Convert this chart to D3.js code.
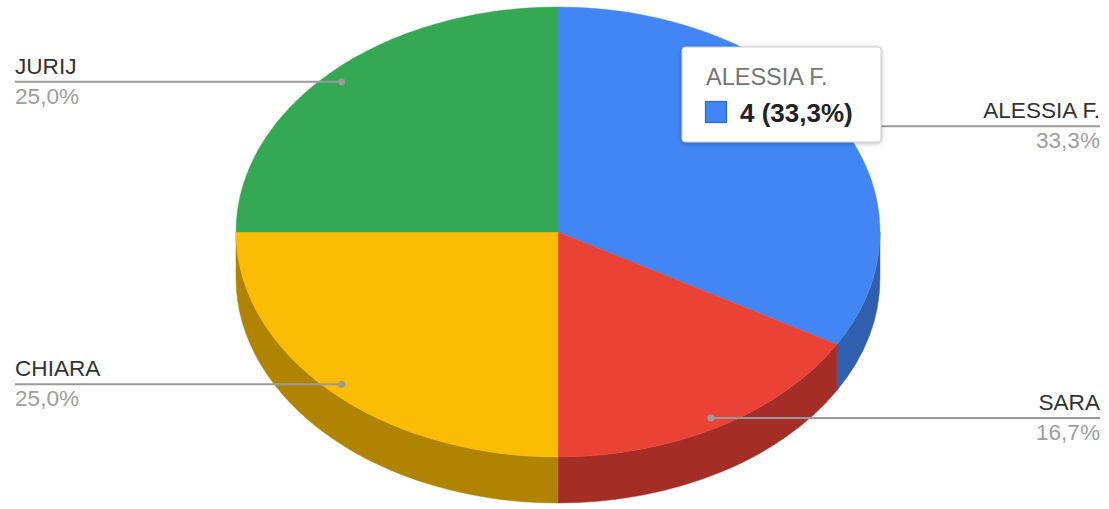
<!DOCTYPE html>
<html>
<head>
<meta charset="utf-8">
<script src="https://cdn.jsdelivr.net/npm/d3@7"></script>
<style>
  html, body { margin: 0; padding: 0; background: #fff; }
  svg { display: block; font-family: "Liberation Sans", Arial, sans-serif; }
</style>
</head>
<body>
<svg id="chart" width="1109" height="509"></svg>
<script>
// ---- data ----
const categories = ["ALESSIA F.", "SARA", "CHIARA", "JURIJ"];
const values = [4, 2, 3, 3];
const topColors = ["#4285f4", "#ea4335", "#fbbc04", "#34a853"];
const sideColors = ["#2f5fae", "#a42d25", "#b08402", "#247638"];
const tooltipIndex = 0;

// ---- layout ----
const W = 1109, H = 509;
const cx = 558, cy = 232, rx = 322, ry = 225, depth = 46;
const labelDotFrac = 0.95;
const leftX = 15, rightX = 1100;
const fontSize = 22.6;

const svg = d3.select("#chart");
const total = d3.sum(values);
const pctText = v => (v / total * 100).toFixed(1).replace(".", ",") + "%";

const pie = d3.pie().sort(null).value(d => d.value);
const arcsData = pie(categories.map((c, i) => ({ name: c, value: values[i], i })));

// projection: angle clockwise from 12 o'clock
const P = (a, dy = 0) => [cx + rx * Math.sin(a), cy - ry * Math.cos(a) + dy];

// shadow filter
const defs = svg.append("defs");
const f = defs.append("filter").attr("id", "shadow").attr("x", "-20%").attr("y", "-20%").attr("width", "140%").attr("height", "150%");
f.append("feDropShadow").attr("dx", 0).attr("dy", 1).attr("stdDeviation", 2).attr("flood-color", "#000").attr("flood-opacity", 0.3);

// ---- side walls (visible front half: PI/2 .. 3PI/2) ----
const sideG = svg.append("g");
arcsData.forEach(d => {
  const a = Math.max(d.startAngle, Math.PI / 2);
  const b = Math.min(d.endAngle, 3 * Math.PI / 2);
  if (b <= a) return;
  const [x0, y0] = P(a), [x1, y1] = P(b);
  const large = (b - a) > Math.PI ? 1 : 0;
  const s = `M${x0},${y0} A${rx},${ry} 0 ${large} 1 ${x1},${y1} L${x1},${y1 + depth} A${rx},${ry} 0 ${large} 0 ${x0},${y0 + depth} Z`;
  sideG.append("path").attr("d", s)
    .attr("fill", sideColors[d.data.i]).attr("stroke", sideColors[d.data.i]).attr("stroke-width", 0.5);
});

// ---- top face ----
const arcGen = d3.arc().innerRadius(0).outerRadius(rx);
const topG = svg.append("g").attr("transform", `translate(${cx},${cy}) scale(1,${ry / rx})`);
topG.selectAll("path").data(arcsData).join("path")
  .attr("d", arcGen)
  .attr("fill", d => topColors[d.data.i])
  .attr("stroke", d => topColors[d.data.i])
  .attr("stroke-width", 0.5);

// ---- labels ----
const labG = svg.append("g");
arcsData.forEach(d => {
  const mid = (d.startAngle + d.endAngle) / 2;
  const dx = cx + labelDotFrac * rx * Math.sin(mid);
  const dy = cy - labelDotFrac * ry * Math.cos(mid) + 1;
  const right = Math.sin(mid) > 0;
  const tx = right ? rightX : leftX;
  labG.append("line").attr("x1", tx).attr("x2", dx).attr("y1", dy).attr("y2", dy)
    .attr("stroke", "#9a9a9a").attr("stroke-width", 2);
  labG.append("circle").attr("cx", dx).attr("cy", dy).attr("r", 3.5).attr("fill", "#9a9a9a");
  labG.append("text").attr("x", tx).attr("y", dy - 8)
    .attr("text-anchor", right ? "end" : "start")
    .attr("font-size", fontSize).attr("fill", "#333").text(d.data.name);
  labG.append("text").attr("x", tx).attr("y", dy + 22)
    .attr("text-anchor", right ? "end" : "start")
    .attr("font-size", fontSize).attr("fill", "#9e9e9e").text(pctText(d.data.value));
});

// ---- tooltip ----
const t = arcsData[tooltipIndex];
const tipG = svg.append("g").attr("transform", "translate(682,47)");
tipG.append("rect").attr("width", 199).attr("height", 95).attr("rx", 3)
  .attr("fill", "#fff").attr("stroke", "#cccccc").attr("stroke-width", 1).attr("filter", "url(#shadow)");
tipG.append("text").attr("x", 24).attr("y", 38).attr("font-size", 23.5).attr("fill", "#757575").text(t.data.name);
tipG.append("rect").attr("x", 23.5).attr("y", 54.5).attr("width", 21).attr("height", 21)
  .attr("fill", topColors[t.data.i]).attr("stroke", "#2f66d0").attr("stroke-width", 1.2);
tipG.append("text").attr("x", 58).attr("y", 75).attr("font-size", 26).attr("font-weight", "bold").attr("fill", "#222")
  .text(`${t.data.value} (${pctText(t.data.value)})`);
</script>
</body>
</html>
